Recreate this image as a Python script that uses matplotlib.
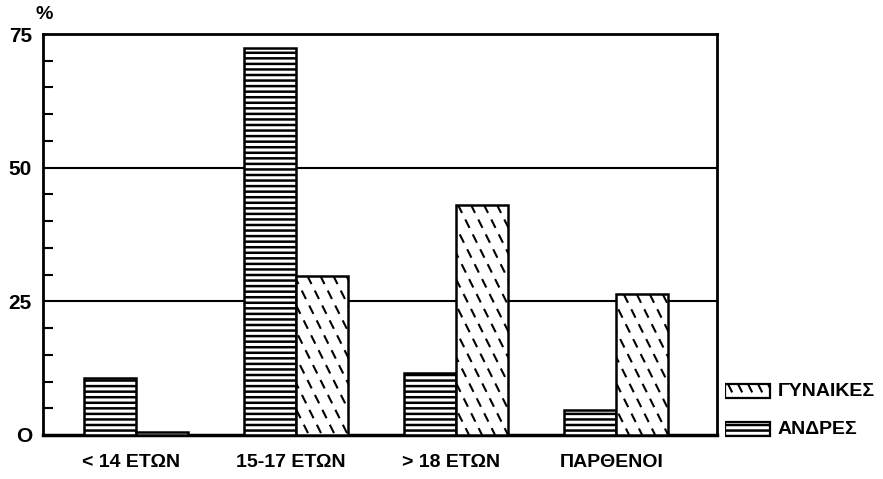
import numpy as np
import matplotlib
matplotlib.use("Agg")
import matplotlib.pyplot as plt
from matplotlib.patches import Rectangle
from matplotlib.lines import Line2D
from matplotlib.transforms import IdentityTransform

# age groups at first intercourse (percent)
categories = ["< 14 ΕΤΩΝ", "15-17 ΕΤΩΝ", "> 18 ΕΤΩΝ", "ΠΑΡΘΕΝΟΙ"]
men = [10.7, 72.4, 11.6, 4.6]
women = [0.5, 29.8, 43.1, 26.3]
yticks = [0, 25, 50, 75]
ytick_labels = ["O", "25", "50", "75"]

plt.rcParams['font.family'] = ['Liberation Sans', 'DejaVu Sans']
plt.rcParams['hatch.linewidth'] = 1.8


def steep_dashes(axis, patch, step=13, slope=2.0):
    # dashed steep back-diagonal hatch, clipped to the patch (pixel space)
    bb = patch.get_window_extent()
    if bb.height < 3:
        return
    x0, x1, y0, y1 = bb.x0, bb.x1, bb.y0, bb.y1
    run = bb.height / slope
    xs = np.arange(x0 - run, x1 + step, step)
    for xs0 in xs:
        ln = Line2D([xs0, xs0 + run], [y1, y0], transform=IdentityTransform(),
                    color="black", lw=1.5, linestyle=(0, (4.5, 3.5)), zorder=4)
        axis.add_line(ln)
        ln.set_clip_path(patch)


fig = plt.figure(figsize=(8.83, 4.79), dpi=100)
ax = fig.add_axes([0.0487, 0.0919, 0.7633, 0.8371])

x = np.arange(len(categories))
w = 0.325
ax.set_xlim(-0.58, 3.63)
ax.set_ylim(0, 75)
ax.bar(x - w / 2, men, w, color="white", edgecolor="black", hatch="---", linewidth=1.8, zorder=3)
wbars = ax.bar(x + w / 2, women, w, color="white", edgecolor="black", linewidth=1.8, zorder=3)
for b in wbars:
    steep_dashes(ax, b)

for g in (25, 50):
    ax.axhline(g, color="black", lw=1.5, zorder=1)

ax.set_yticks(yticks)
ax.set_yticklabels(ytick_labels, fontsize=15, fontweight="bold")
ax.set_yticks(np.arange(5, 75, 5), minor=True)
ax.tick_params(axis="y", which="major", length=0, pad=8)
ax.tick_params(axis="y", which="minor", direction="in", length=7, width=1.5)
ax.set_xticks(x - 0.03)
ax.set_xticklabels(categories, fontsize=14, fontweight="bold")
ax.tick_params(axis="x", length=0, pad=14)
for s in ax.spines.values():
    s.set_linewidth(2)
ax.spines["bottom"].set_linewidth(2.5)

fig.text(0.040, 0.969, "%", fontsize=14, fontweight="bold", ha="left", va="center")

# legend drawn by hand so the women swatch uses the same hatch
lax = fig.add_axes([725 / 883, 1 - 440 / 479, 158 / 883, 60 / 479])
lax.set_xlim(0, 158)
lax.set_ylim(0, 60)
lax.axis("off")
sw = Rectangle((0, 42), 45, 14, facecolor="white", edgecolor="black", lw=1.6)
lax.add_patch(sw)
steep_dashes(lax, sw, step=10)
lax.add_patch(Rectangle((0, 4), 45, 14, facecolor="white", edgecolor="black", hatch="---", lw=1.6))
lax.text(53, 49, "ΓΥΝΑΙΚΕΣ", fontsize=14, fontweight="bold", va="center")
lax.text(53, 11, "ΑΝΔΡΕΣ", fontsize=14, fontweight="bold", va="center")

fig.savefig("out.png", dpi=100)
